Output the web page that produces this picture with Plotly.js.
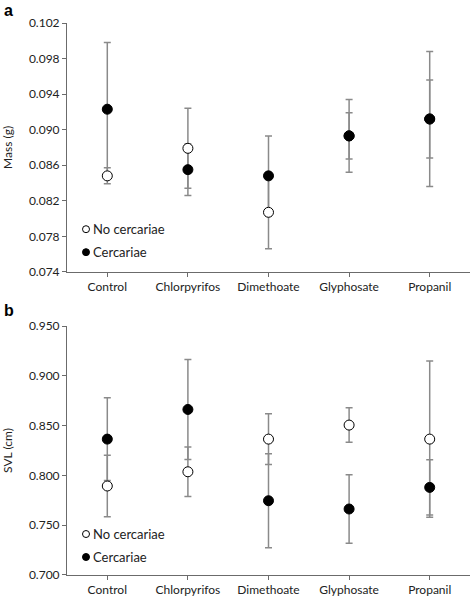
<!DOCTYPE html>
<html>
<head>
<meta charset="utf-8">
<script src="https://cdn.plot.ly/plotly-3.0.1.min.js"></script>
<style>html,body{margin:0;padding:0;background:#fff;}#chart{width:472px;height:599px;}</style>
</head>
<body>
<div id="chart"></div>
<script>
const categories = ['Control', 'Chlorpyrifos', 'Dimethoate', 'Glyphosate', 'Propanil'];
const seriesNames = ['No cercariae', 'Cercariae'];

// Panel a: Mass (g)
const massNoCercariae = [0.0848, 0.0879, 0.0807, 0.0893, 0.0912];
const massNoCercariaeErr = [0.0009, 0.0045, 0.0041, 0.0041, 0.0076];
const massCercariae = [0.0923, 0.0855, 0.0848, 0.0893, 0.0912];
const massCercariaeErr = [0.0075, 0.0029, 0.0045, 0.0026, 0.0044];

// Panel b: SVL (cm)
const svlNoCercariae = [0.7894, 0.8037, 0.8365, 0.8506, 0.8365];
const svlNoCercariaeErr = [0.0308, 0.0248, 0.0255, 0.0173, 0.0784];
const svlCercariae = [0.8365, 0.8663, 0.7746, 0.7663, 0.7880];
const svlCercariaeErr = [0.0415, 0.0502, 0.0472, 0.0344, 0.0278];

const FONT = 'Lato, "Open Sans", sans-serif';
const errStyle = {color: '#8a8a8a', thickness: 1.5, width: 3.5};

function errTrace(y, err, ya) {
  return {x: categories, y: y, xaxis: ya === 'y' ? 'x' : 'x2', yaxis: ya, type: 'scatter', mode: 'markers',
    marker: {color: 'rgba(0,0,0,0)', size: 1}, showlegend: false, hoverinfo: 'skip',
    error_y: Object.assign({type: 'data', array: err, visible: true}, errStyle)};
}
function markTrace(y, ya, filled, name) {
  return {x: categories, y: y, xaxis: ya === 'y' ? 'x' : 'x2', yaxis: ya, type: 'scatter', mode: 'markers', name: name,
    showlegend: false,
    marker: {size: 10, color: filled ? '#000' : '#fff', line: {color: '#000', width: 1}}};
}

const data = [
  errTrace(massNoCercariae, massNoCercariaeErr, 'y'),
  errTrace(massCercariae, massCercariaeErr, 'y'),
  errTrace(svlNoCercariae, svlNoCercariaeErr, 'y2'),
  errTrace(svlCercariae, svlCercariaeErr, 'y2'),
  markTrace(massNoCercariae, 'y', false, seriesNames[0]),
  markTrace(massCercariae, 'y', true, seriesNames[1]),
  markTrace(svlNoCercariae, 'y2', false, seriesNames[0]),
  markTrace(svlCercariae, 'y2', true, seriesNames[1])
];

const axisCommon = {showline: true, linecolor: '#6b6b6b', linewidth: 1, ticks: 'outside', ticklen: 4,
  tickcolor: '#6b6b6b', showgrid: false, zeroline: false, tickfont: {family: FONT, size: 12, color: '#222'}};

const H = 599 - 22.7 - 24;
const layout = {
  width: 472, height: 599,
  margin: {l: 67, r: 2, t: 22.7, b: 24, pad: 0},
  paper_bgcolor: '#fff', plot_bgcolor: '#fff',
  showlegend: false,
  xaxis: Object.assign({}, axisCommon, {anchor: 'y', range: [-0.5, 4.5], domain: [0, 1]}),
  xaxis2: Object.assign({}, axisCommon, {anchor: 'y2', range: [-0.5, 4.5], domain: [0, 1]}),
  yaxis: Object.assign({}, axisCommon, {anchor: 'x', domain: [(575 - 271.7) / H, 1], range: [0.074, 0.102],
    dtick: 0.004, tick0: 0.074, tickformat: '.3f',
    title: {text: 'Mass (g)', font: {family: FONT, size: 12, color: '#222'}, standoff: 13}}),
  yaxis2: Object.assign({}, axisCommon, {anchor: 'x2', domain: [0, (575 - 326) / H], range: [0.7, 0.95],
    dtick: 0.05, tick0: 0.7, tickformat: '.3f',
    title: {text: 'SVL (cm)', font: {family: FONT, size: 12, color: '#222'}, standoff: 13}}),
  shapes: [],
  annotations: [
    {text: '<b>a</b>', xref: 'paper', yref: 'paper', x: -67 / 403 + 2 / 403, y: (575 - 0) / H, xanchor: 'left', yanchor: 'top',
      showarrow: false, font: {family: 'Arial, "Liberation Sans", sans-serif', size: 16, color: '#000'}},
    {text: '<b>b</b>', xref: 'paper', yref: 'paper', x: -67 / 403 + 2 / 403, y: (575 - 300) / H, xanchor: 'left', yanchor: 'top',
      showarrow: false, font: {family: 'Arial, "Liberation Sans", sans-serif', size: 16, color: '#000'}}
  ]
};

// Legends (drawn inside each panel)
const legendRows = [[229, 252], [534, 557]];
legendRows.forEach(function (rows) {
  rows.forEach(function (py, i) {
    const yp = (575 - py) / H;
    const xp = (86 - 67) / 403;
    layout.shapes.push({type: 'circle', xref: 'paper', yref: 'paper', xsizemode: 'pixel', ysizemode: 'pixel',
      xanchor: xp, yanchor: yp, x0: -3.5, x1: 3.5, y0: -3.5, y1: 3.5,
      fillcolor: i === 0 ? '#fff' : '#000', line: {color: '#000', width: 1}});
    layout.annotations.push({text: seriesNames[i], xref: 'paper', yref: 'paper', x: (91 - 67) / 403, y: yp,
      xanchor: 'left', yanchor: 'middle', showarrow: false, font: {family: FONT, size: 13, color: '#222'}});
  });
});

Plotly.newPlot('chart', data, layout, {staticPlot: true, displayModeBar: false});
</script>
</body>
</html>
